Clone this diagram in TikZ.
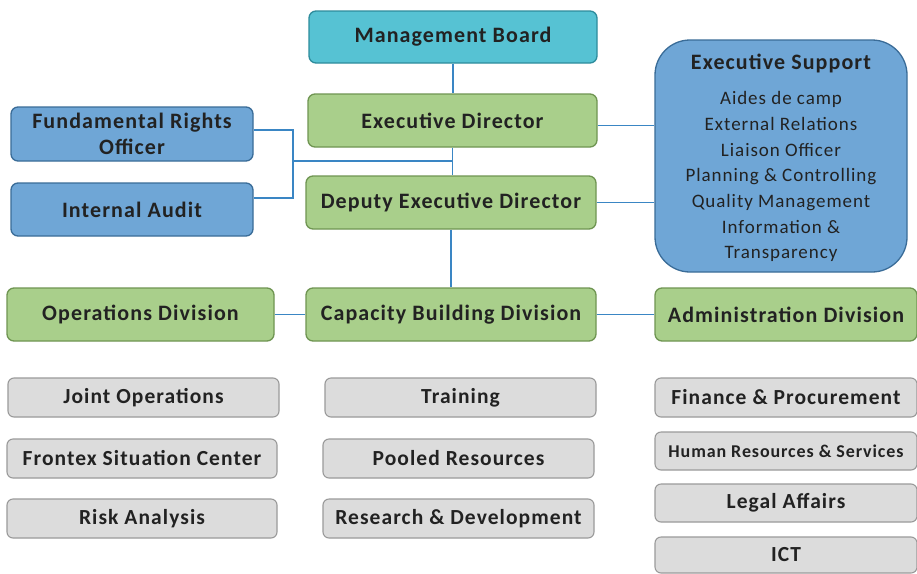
\documentclass[tikz,border=0pt]{standalone}
\usepackage{fontspec}
\setmainfont{Carlito}
\newfontfamily\spfont[LetterSpace=5]{Carlito}
\definecolor{tealF}{HTML}{56C2D3}
\definecolor{tealD}{HTML}{2E8C9C}
\definecolor{greenF}{HTML}{A9CF8B}
\definecolor{greenD}{HTML}{6F9552}
\definecolor{blueF}{HTML}{6FA6D6}
\definecolor{blueD}{HTML}{3A6C98}
\definecolor{grayF}{HTML}{DCDCDC}
\definecolor{grayD}{HTML}{9A9A9A}
\definecolor{lineC}{HTML}{3A86C4}
\definecolor{txt}{HTML}{222222}
\begin{document}
\begin{tikzpicture}[x=1pt,y=-1pt,
  box/.style={draw, line width=1.3pt, rounded corners=7pt, inner sep=2pt, align=center,
    text=txt, font=\spfont\fontsize{22}{26.5}\selectfont\bfseries},
  tealbox/.style={box, fill=tealF, draw=tealD},
  greenbox/.style={box, fill=greenF, draw=greenD},
  bluebox/.style={box, fill=blueF, draw=blueD},
  graybox/.style={box, fill=grayF, draw=grayD, line width=1.1pt, rounded corners=6pt, font=\spfont\fontsize{21.5}{24}\selectfont\bfseries},
  conn/.style={draw=lineC, line width=1.7pt}]
\useasboundingbox (0,0) rectangle (917,573);
\fill[white] (0,0) rectangle (917,573);
% top chain
\node[tealbox, minimum width=288pt, minimum height=52pt] (mb) at (453,37) {Management Board};
\node[greenbox, minimum width=289pt, minimum height=53pt] (ed) at (452.5,120.5) {Executive Director};
\node[greenbox, minimum width=290pt, minimum height=53pt] (ded) at (451,202.5) {Deputy Executive Director};
% left blue
\node[bluebox, minimum width=242pt, minimum height=54pt] (fro) at (132,134) {Fundamental Rights\\Officer};
\node[bluebox, minimum width=242pt, minimum height=53pt] (ia) at (132,209.5) {Internal Audit};
% executive support
\node[bluebox, minimum width=252pt, minimum height=232pt, rounded corners=35pt] (es) at (781,156) {};
\node[text=txt, font=\spfont\fontsize{22}{24}\selectfont\bfseries] (est) at (781,63) {Executive Support};
\node[text=txt, align=center, font=\spfont\fontsize{19}{25.7}\selectfont, anchor=north] (esl) at (781,88)
  {Aides de camp\\External Relations\\Liaison Officer\\Planning \& Controlling\\Quality Management\\Information \&\\Transparency};
% divisions
\node[greenbox, minimum width=267pt, minimum height=53pt] (od) at (140.5,314.5) {Operations Division};
\node[greenbox, minimum width=290pt, minimum height=53pt] (cbd) at (451,314.5) {Capacity Building Division};
\node[greenbox, minimum width=262pt, minimum height=53pt] (ad) at (786,314.5) {Administration Division};
% gray units
\node[graybox, minimum width=271pt, minimum height=39pt] (jo) at (143.5,397.5) {Joint Operations};
\node[graybox, minimum width=270pt, minimum height=39pt] (fsc) at (142,458.5) {Frontex Situation Center};
\node[graybox, minimum width=270pt, minimum height=39pt] (ra) at (142,518.5) {Risk Analysis};
\node[graybox, minimum width=271pt, minimum height=39pt] (tr) at (460.5,397.5) {Training};
\node[graybox, minimum width=271pt, minimum height=39pt] (pr) at (458.5,458.5) {Pooled Resources};
\node[graybox, minimum width=271pt, minimum height=39pt] (rd) at (458.5,518.5) {Research \& Development};
\node[graybox, minimum width=262pt, minimum height=39pt] (fp) at (786,397.5) {Finance \& Procurement};
\node[graybox, minimum width=262pt, minimum height=38pt, font=\spfont\fontsize{18}{20}\selectfont\bfseries] (hr) at (786,451) {Human Resources \& Services};
\node[graybox, minimum width=262pt, minimum height=38pt] (la) at (786,503) {Legal Affairs};
\node[graybox, minimum width=262pt, minimum height=36pt] (ict) at (786,555) {ICT};
% connectors
\coordinate (bt) at (293,130);
\coordinate (bb) at (293,198);
\coordinate (bm) at (293,161);
\draw[conn] (mb.south) -- (mb.south |- ed.north);
\draw[conn] (ed.south) -- (ed.south |- ded.north);
\draw[conn] (ded.south) -- (ded.south |- cbd.north);
\draw[conn] (fro.east |- bt) -- (bt) -- (bb) -- (ia.east |- bb);
\draw[conn] (bm) -- (bm -| ed.south);
\draw[conn] ([yshift=-5pt]ed.east) -- ([yshift=-5pt]ed.east -| es.west);
\draw[conn] (ded.east) -- (ded.east -| es.west);
\draw[conn] (od.east) -- (cbd.west);
\draw[conn] (cbd.east) -- (ad.west);
\end{tikzpicture}
\end{document}
